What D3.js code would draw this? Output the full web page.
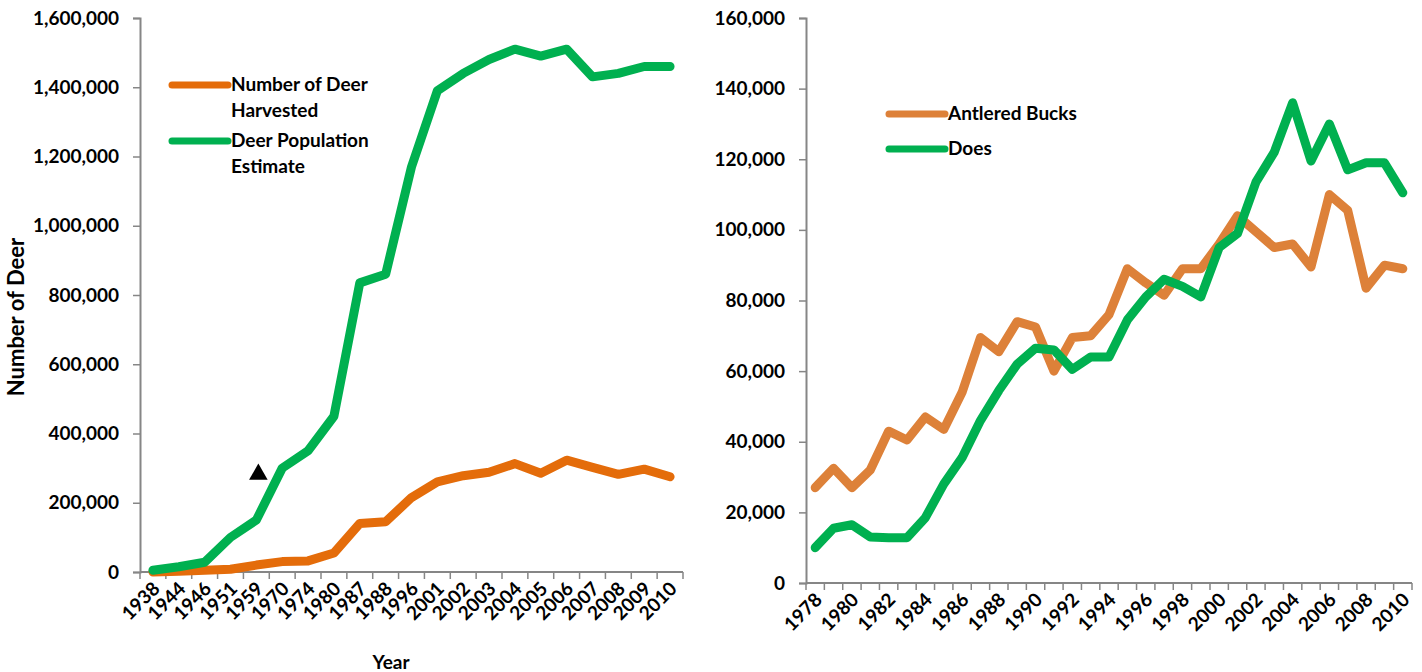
<!DOCTYPE html>
<html>
<head>
<meta charset="utf-8">
<script src="https://cdn.jsdelivr.net/npm/d3@7"></script>
<style>
  body { margin: 0; background: #fff; }
  text { font-family: Lato, "Open Sans", sans-serif; font-weight: bold; fill: #000; }
</style>
</head>
<body>
<script>
// left chart data
var leftYears = ['1938','1944','1946','1951','1959','1970','1974','1980','1987','1988','1996',
                 '2001','2002','2003','2004','2005','2006','2007','2008','2009','2010'];
var harvested = [0, 2000, 5000, 8000, 20000, 30000, 32000, 55000, 140000, 145000, 215000,
                 260000, 278000, 288000, 313000, 285000, 323000, 302000, 282000, 297000, 275000];
var population = [5000, 15000, 28000, 100000, 150000, 300000, 350000, 450000, 835000, 860000, 1170000,
                  1390000, 1440000, 1480000, 1510000, 1490000, 1510000, 1430000, 1440000, 1460000, 1460000];
var leftTicks = [0, 200000, 400000, 600000, 800000, 1000000, 1200000, 1400000, 1600000];
var marker = {year: '1959', value: 282000};

// right chart data
var rightYears = d3.range(1978, 2011).map(String);
var bucks = [27000, 32500, 27000, 32000, 43000, 40500, 47000, 43500, 54000, 69500, 65500,
             74000, 72500, 60000, 69500, 70000, 76000, 89000, 85000, 81500, 89000, 89000,
             96000, 104000, 99500, 95000, 96000, 89500, 110000, 105500, 83500, 90000, 89000];
var does = [10000, 15500, 16500, 13000, 12800, 12800, 18500, 28000, 35500, 46000, 54500,
            62000, 66500, 66000, 60500, 64000, 64000, 74500, 81000, 86000, 84000, 81000,
            95000, 99000, 113500, 122000, 136000, 119500, 130000, 117000, 119000, 119000, 110500];
var rightTicks = [0, 20000, 40000, 60000, 80000, 100000, 120000, 140000, 160000];

var width = 1422, height = 672;
var svg = d3.select('body').append('svg')
    .attr('width', width)
    .attr('height', height);

var fmt = d3.format(',');
var axisColor = '#868686';
var fontSize = '19px';

function drawChart(opt) {
  var x = d3.scaleBand().domain(opt.years).range([opt.x0, opt.x1]);
  var y = d3.scaleLinear().domain([0, opt.max]).range([opt.y0, opt.y1]);
  var g = svg.append('g');

  // y axis
  var yAxis = g.append('g')
      .attr('transform', 'translate(' + opt.x0 + ',0)')
      .call(d3.axisLeft(y).tickValues(opt.ticks).tickFormat(fmt).tickSize(7).tickPadding(14));
  yAxis.select('.domain').attr('stroke', axisColor).attr('stroke-width', 2);
  yAxis.selectAll('.tick line').attr('stroke', axisColor).attr('stroke-width', 1.5);
  yAxis.selectAll('.tick text').style('font-size', fontSize).style('font-family', 'Lato, sans-serif').style('font-weight', 'bold');

  // x axis line + ticks between categories
  g.append('line')
      .attr('x1', opt.x0).attr('x2', opt.x1)
      .attr('y1', opt.y0).attr('y2', opt.y0)
      .attr('stroke', axisColor).attr('stroke-width', 2);
  var bounds = opt.years.map(function(d) { return x(d); }).concat([opt.x1]);
  g.selectAll('.xtick').data(bounds).enter().append('line')
      .attr('x1', function(d) { return d; }).attr('x2', function(d) { return d; })
      .attr('y1', opt.y0).attr('y2', opt.y0 + 7)
      .attr('stroke', axisColor).attr('stroke-width', 1.5);

  var labels = opt.years.filter(function(d, i) { return i % opt.every === 0; });
  g.selectAll('.xlab').data(labels).enter().append('text')
      .attr('text-anchor', 'end')
      .attr('transform', function(d) {
        return 'translate(' + (x(d) + x.bandwidth() / 2 + 8) + ',' + (opt.y0 + 18) + ') rotate(-45)';
      })
      .style('font-size', fontSize)
      .text(function(d) { return d; });

  var line = d3.line()
      .x(function(d, i) { return x(opt.years[i]) + x.bandwidth() / 2; })
      .y(function(d) { return y(d); });

  opt.series.forEach(function(s) {
    g.append('path')
        .datum(s.values)
        .attr('d', line)
        .attr('fill', 'none')
        .attr('stroke', s.color)
        .attr('stroke-width', 9)
        .attr('stroke-linejoin', 'round')
        .attr('stroke-linecap', 'round');
  });

  // legend
  opt.series.forEach(function(s) {
    g.append('line')
        .attr('x1', s.lx).attr('x2', s.lx + 56)
        .attr('y1', s.ly).attr('y2', s.ly)
        .attr('stroke', s.color).attr('stroke-width', 7)
        .attr('stroke-linecap', 'round');
    s.label.forEach(function(t, k) {
      g.append('text')
          .attr('x', s.lx + 59)
          .attr('y', s.ly + 6 + k * 26)
          .style('font-size', fontSize)
          .text(t);
    });
  });

  return {x: x, y: y, g: g};
}

var left = drawChart({
  years: leftYears, x0: 140, x1: 683, y0: 572, y1: 18, max: 1600000,
  ticks: leftTicks, every: 1,
  series: [
    {values: harvested, color: '#E46C0A', lx: 172, ly: 85, label: ['Number of Deer', 'Harvested']},
    {values: population, color: '#00B050', lx: 172, ly: 141, label: ['Deer Population', 'Estimate']}
  ]
});

// black triangle annotation
left.g.append('path')
    .attr('d', d3.symbol().type(d3.symbolTriangle).size(150))
    .attr('transform', 'translate(' + (left.x(marker.year) + left.x.bandwidth() / 2 + 2) + ',' + left.y(marker.value) + ')')
    .attr('fill', '#000');

// axis titles
svg.append('text')
    .attr('transform', 'translate(24,317) rotate(-90)')
    .attr('text-anchor', 'middle')
    .style('font-size', '22px')
    .text('Number of Deer');
svg.append('text')
    .attr('x', 391).attr('y', 669)
    .attr('text-anchor', 'middle')
    .style('font-size', fontSize)
    .text('Year');

drawChart({
  years: rightYears, x0: 806, x1: 1412, y0: 583, y1: 18, max: 160000,
  ticks: rightTicks, every: 2,
  series: [
    {values: bucks, color: '#DD8139', lx: 889, ly: 114, label: ['Antlered Bucks']},
    {values: does, color: '#00B050', lx: 889, ly: 149, label: ['Does']}
  ]
});
</script>
</body>
</html>
